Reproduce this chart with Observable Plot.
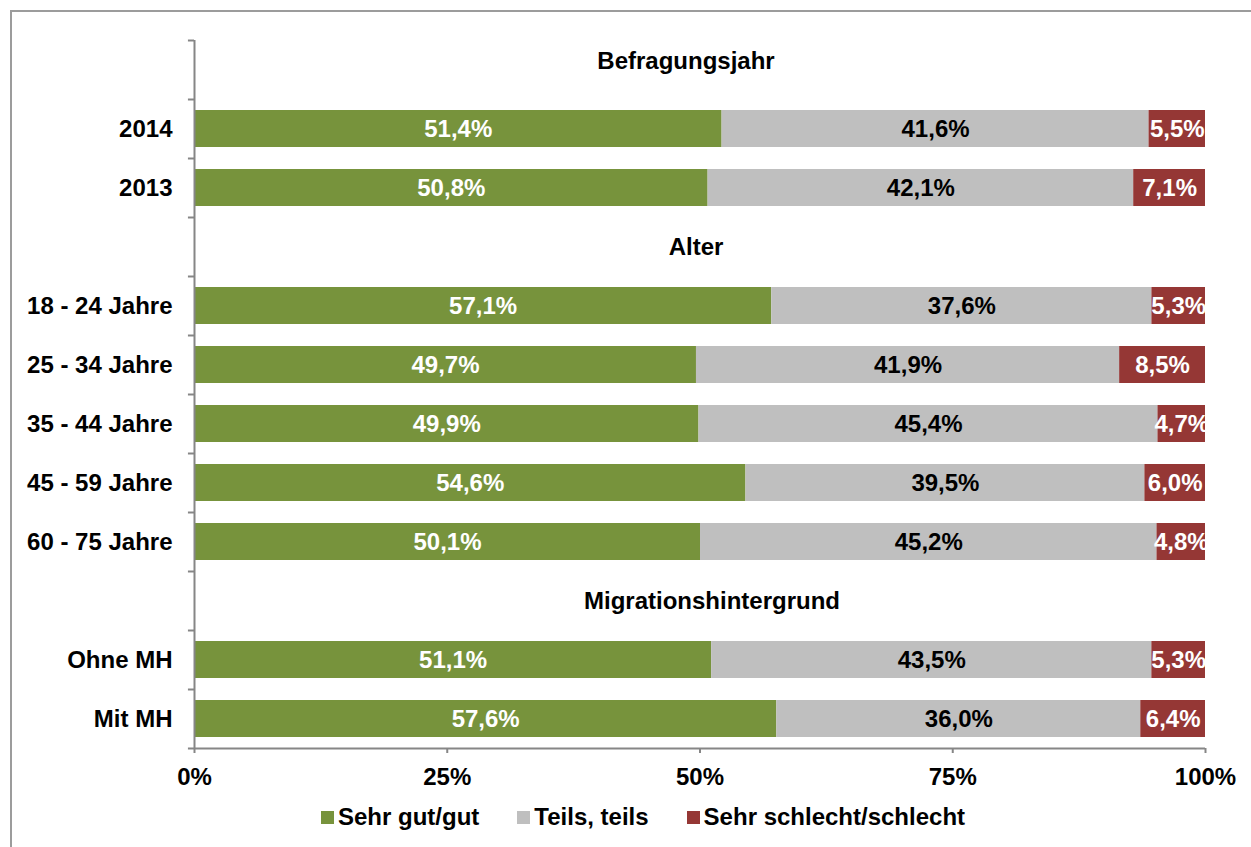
<!DOCTYPE html>
<html><head><meta charset="utf-8">
<script src="https://cdn.jsdelivr.net/npm/d3@7"></script>
<script src="https://cdn.jsdelivr.net/npm/@observablehq/plot@0.6"></script>
<style>
html,body{margin:0;padding:0;background:#fff;overflow:hidden;width:1251px;height:847px}
#wrap{position:relative;width:1251px;height:847px;font-family:"Liberation Sans",Arial,sans-serif;font-weight:bold}
#border{position:absolute;left:10px;top:10px;width:1400px;height:1000px;border:2px solid #9c9c9c;box-sizing:border-box}
#chart{position:absolute;left:0;top:0}
#legend{position:absolute;left:321px;top:800px;height:34px;display:flex;align-items:center;font-size:24px;color:#000;white-space:nowrap}
.item{display:flex;align-items:center;margin-right:38px}
.sw{width:13px;height:13px;margin-right:4px}
</style></head><body><div id="wrap"><div id="border"></div><div id="chart"></div><div id="legend"></div></div>
<script>
// ---- data ----
const headers = ["Befragungsjahr", "Alter", "Migrationshintergrund"];
const yOrder = ["Befragungsjahr", "2014", "2013", "Alter", "18 - 24 Jahre", "25 - 34 Jahre", "35 - 44 Jahre", "45 - 59 Jahre", "60 - 75 Jahre", "Migrationshintergrund", "Ohne MH", "Mit MH"];
const rows = ["2014", "2013", "18 - 24 Jahre", "25 - 34 Jahre", "35 - 44 Jahre", "45 - 59 Jahre", "60 - 75 Jahre", "Ohne MH", "Mit MH"];
const series = ["Sehr gut/gut", "Teils, teils", "Sehr schlecht/schlecht"];
const gut      = [51.4, 50.8, 57.1, 49.7, 49.9, 54.6, 50.1, 51.1, 57.6];
const teils    = [41.6, 42.1, 37.6, 41.9, 45.4, 39.5, 45.2, 43.5, 36.0];
const schlecht = [5.5, 7.1, 5.3, 8.5, 4.7, 6.0, 4.8, 5.3, 6.4];
const xTicks = [0, 0.25, 0.5, 0.75, 1];
const colors = ["#77933C", "#BFBFBF", "#953735"];

const data = [];
rows.forEach((cat, i) => {
  [gut, teils, schlecht].forEach((arr, j) => data.push({cat, series: series[j], value: arr[i]}));
});
const fmt = v => d3.format(".1f")(v).replace(".", ",") + "%";
const axisCol = "#868686";
const stack = (extra) => Plot.stackX({offset: "normalize", x: "value", y: "cat", z: "series", ...extra});

const chart = Plot.plot({
  width: 1251,
  height: 800,
  marginLeft: 194,
  marginRight: 46,
  marginTop: 40,
  marginBottom: 52,
  style: {fontFamily: '"Liberation Sans", Arial, sans-serif', fontSize: "24px", fontWeight: "bold", background: "transparent", color: "#000", overflow: "visible"},
  x: {domain: [0, 1], axis: null},
  y: {domain: yOrder, paddingInner: 0.37, paddingOuter: 0.185, axis: null},
  color: {domain: series, range: colors},
  marks: [
    Plot.barX(data, Plot.stackX({offset: "normalize", x: "value", y: "cat", fill: "series"})),
    Plot.text(data, stack({text: d => d.series !== "Teils, teils" ? fmt(d.value) : null, fill: "white", clip: true})),
    Plot.text(data, stack({text: d => d.series === "Teils, teils" ? fmt(d.value) : null, fill: "black", clip: true})),
    Plot.text(headers.slice(0, 1), {y: d => d, frameAnchor: "middle", dy: -9, dx: -14, fill: "black"}),
    Plot.text(headers.slice(1, 2), {y: d => d, frameAnchor: "middle", dx: -4, fill: "black"}),
    Plot.text(headers.slice(2, 3), {y: d => d, frameAnchor: "middle", dx: 12, fill: "black"}),
    Plot.ruleX([0], {stroke: axisCol, strokeWidth: 2}),
    Plot.ruleY(yOrder, {y: d => d, x1: -0.006, x2: 0, dy: -29.5, stroke: axisCol, strokeWidth: 2}),
    Plot.ruleY(yOrder.slice(-1), {y: d => d, x1: -0.006, x2: 1, dy: 29.5, stroke: axisCol, strokeWidth: 2}),
    Plot.axisY({tickSize: 0, tickPadding: 22, tickFormat: d => headers.includes(d) ? "" : d, fill: "black", label: null}),
    Plot.axisX({ticks: xTicks, tickFormat: d3.format(".0%"), tickSize: 5, tickPadding: 14, stroke: axisCol, strokeWidth: 2, fill: "black", label: null})
  ]
});
document.getElementById("chart").appendChild(chart);

const legend = document.getElementById("legend");
series.forEach((s, i) => {
  const it = document.createElement("div");
  it.className = "item";
  it.innerHTML = `<span class="sw" style="background:${colors[i]}"></span><span>${s}</span>`;
  legend.appendChild(it);
});
</script>
</body></html>
